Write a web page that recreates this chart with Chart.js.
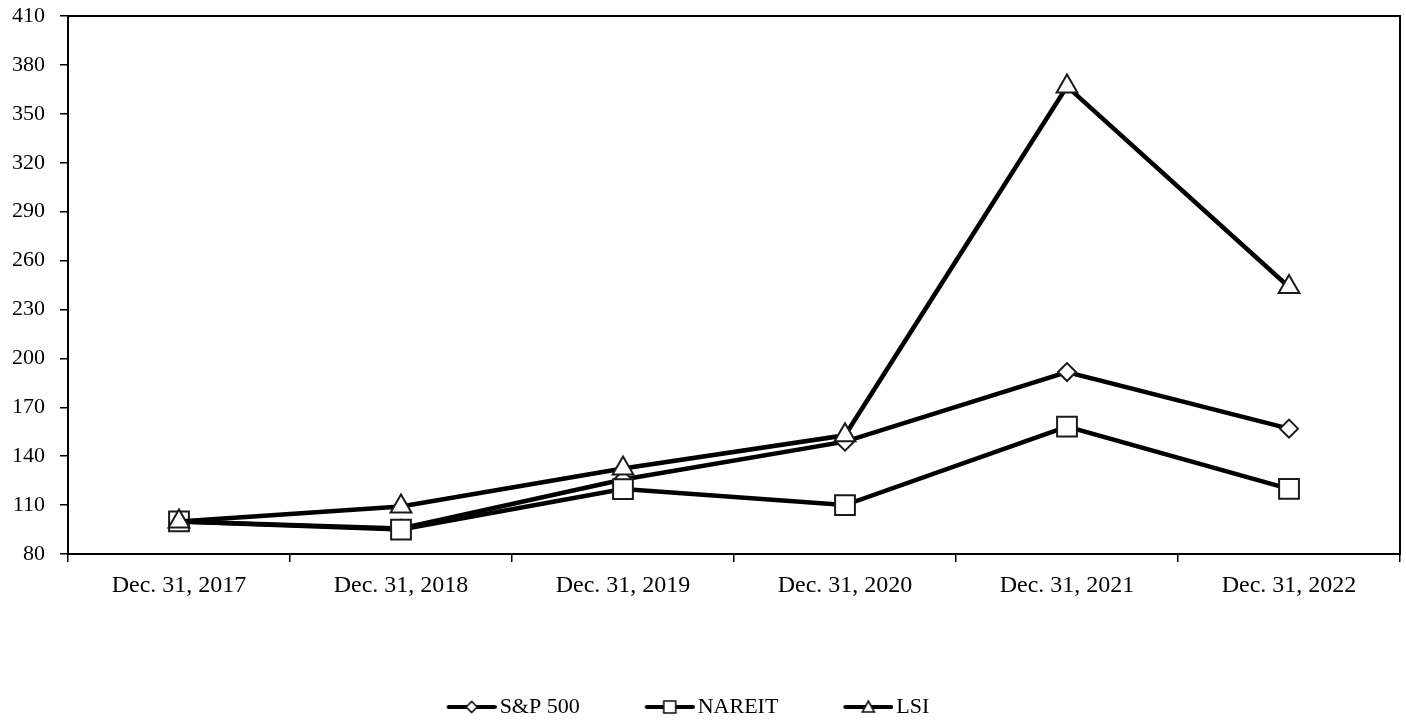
<!DOCTYPE html>
<html>
<head>
<meta charset="utf-8">
<script src="https://cdn.jsdelivr.net/npm/chart.js@4/dist/chart.umd.min.js"></script>
<style>
  html, body { margin: 0; padding: 0; background: #fff; overflow: hidden; }
  #wrap { width: 1406px; height: 722px; }
  #perfChart { display: block; }
</style>
</head>
<body>
<div id="wrap"><canvas id="perfChart"></canvas></div>
<script>
// dados
const categories = ['Dec. 31, 2017', 'Dec. 31, 2018', 'Dec. 31, 2019', 'Dec. 31, 2020', 'Dec. 31, 2021', 'Dec. 31, 2022'];
const sp500 = [100, 95.6, 125.7, 148.9, 191.6, 156.9];
const nareit = [100, 95.0, 119.8, 110.0, 158.1, 119.9];
const lsi = [100, 109.2, 132.5, 152.8, 366.8, 243.8];
const yTicks = [80, 110, 140, 170, 200, 230, 260, 290, 320, 350, 380, 410];

const FONT = 'Liberation Serif, Times New Roman, serif';

// ícone da legenda: linha preta com o marcador no meio
const makeLegendIcon = (style) => {
    const c = document.createElement('canvas');
    c.width = 66;
    c.height = 22;
    const ctx = c.getContext('2d');
    ctx.strokeStyle = '#000';
    ctx.lineWidth = 4;
    ctx.lineCap = 'round';
    ctx.beginPath();
    ctx.moveTo(18, 11);
    ctx.lineTo(64, 11);
    ctx.stroke();

    const cx = 41, cy = 11;
    ctx.fillStyle = '#fff';
    ctx.strokeStyle = '#111';
    ctx.lineWidth = 1.6;
    ctx.beginPath();
    if (style === 'rectRot') {
        ctx.moveTo(cx - 5.5, cy);
        ctx.lineTo(cx, cy - 5.5);
        ctx.lineTo(cx + 5.5, cy);
        ctx.lineTo(cx, cy + 5.5);
    } else if (style === 'rect') {
        ctx.rect(cx - 6, cy - 6, 12, 12);
    } else {
        ctx.moveTo(cx, cy - 6);
        ctx.lineTo(cx + 6, cy + 5);
        ctx.lineTo(cx - 6, cy + 5);
    }
    ctx.closePath();
    ctx.fill();
    ctx.stroke();
    return c;
};

// order: LSI por cima, como no original
const series = [
    { label: 'S&P 500', data: sp500, style: 'rectRot', radius: 9, order: 2 },
    { label: 'NAREIT', data: nareit, style: 'rect', radius: 14, order: 1 },
    { label: 'LSI', data: lsi, style: 'triangle', radius: 12, order: 0 },
];

const legendIcons = series.map(s => makeLegendIcon(s.style));

// moldura completa da área do gráfico + ajuste fino da legenda
const framePlugin = {
    id: 'frame',
    afterLayout(chart) {
        const lg = chart.legend;
        lg.top += 6; lg.bottom += 6;
        lg.left -= 16; lg.right -= 16;
    },
    beforeDatasetsDraw(chart) {
        const { ctx, chartArea: a } = chart;
        ctx.save();
        ctx.strokeStyle = '#000';
        ctx.lineWidth = 2;
        ctx.strokeRect(a.left, a.top, a.right - a.left, a.bottom - a.top);
        ctx.restore();
    }
};

const ctx = document.getElementById('perfChart').getContext('2d');

new Chart(ctx, {
    type: 'line',
    data: {
        labels: categories,
        datasets: series.map(s => ({
            label: s.label,
            data: s.data,
            order: s.order,
            borderColor: '#000',
            borderWidth: 4.5,
            tension: 0,
            pointStyle: s.style,
            pointRadius: s.radius,
            pointHoverRadius: s.radius,
            pointBackgroundColor: '#fff',
            pointBorderColor: '#1a1a1a',
            pointBorderWidth: 2,
            clip: false
        }))
    },
    options: {
        responsive: true,
        maintainAspectRatio: false,
        animation: false,
        devicePixelRatio: 1,
        layout: { autoPadding: false, padding: { top: 0, right: 6, bottom: 0, left: 0 } },
        plugins: {
            tooltip: { enabled: false },
            legend: {
                position: 'bottom',
                labels: {
                    usePointStyle: true,
                    pointStyleWidth: 50,
                    padding: 57,
                    color: '#000',
                    font: { family: FONT, size: 22 },
                    generateLabels: (chart) => chart.data.datasets.map((ds, i) => ({
                        text: ds.label,
                        pointStyle: legendIcons[i],
                        fillStyle: '#fff',
                        strokeStyle: '#000',
                        lineWidth: 0,
                        hidden: false,
                        datasetIndex: i
                    }))
                }
            }
        },
        scales: {
            x: {
                offset: true,
                grid: {
                    offset: true,
                    drawOnChartArea: false,
                    drawTicks: true,
                    tickLength: 8,
                    color: '#000',
                    lineWidth: 1.5
                },
                border: { color: '#000', width: 2 },
                ticks: {
                    color: '#000',
                    padding: 9,
                    maxRotation: 0,
                    font: { family: FONT, size: 24 }
                },
                afterFit: (scale) => {
                    scale.height = 79;
                    scale.getPadding = () => ({ left: 0, top: 0, right: 0, bottom: 0 });
                }
            },
            y: {
                min: 80,
                max: 410,
                afterBuildTicks: (scale) => { scale.ticks = yTicks.map(v => ({ value: v })); },
                grid: {
                    drawOnChartArea: false,
                    drawTicks: true,
                    tickLength: 8,
                    color: '#000',
                    lineWidth: 1.5
                },
                border: { color: '#000', width: 2 },
                ticks: {
                    color: '#000',
                    padding: 15,
                    font: { family: FONT, size: 22 }
                },
                afterFit: (scale) => {
                    scale.width = 68;
                    scale.getPadding = () => ({ left: 0, top: 16, right: 0, bottom: 0 });
                }
            }
        }
    },
    plugins: [framePlugin]
});
</script>
</body>
</html>
